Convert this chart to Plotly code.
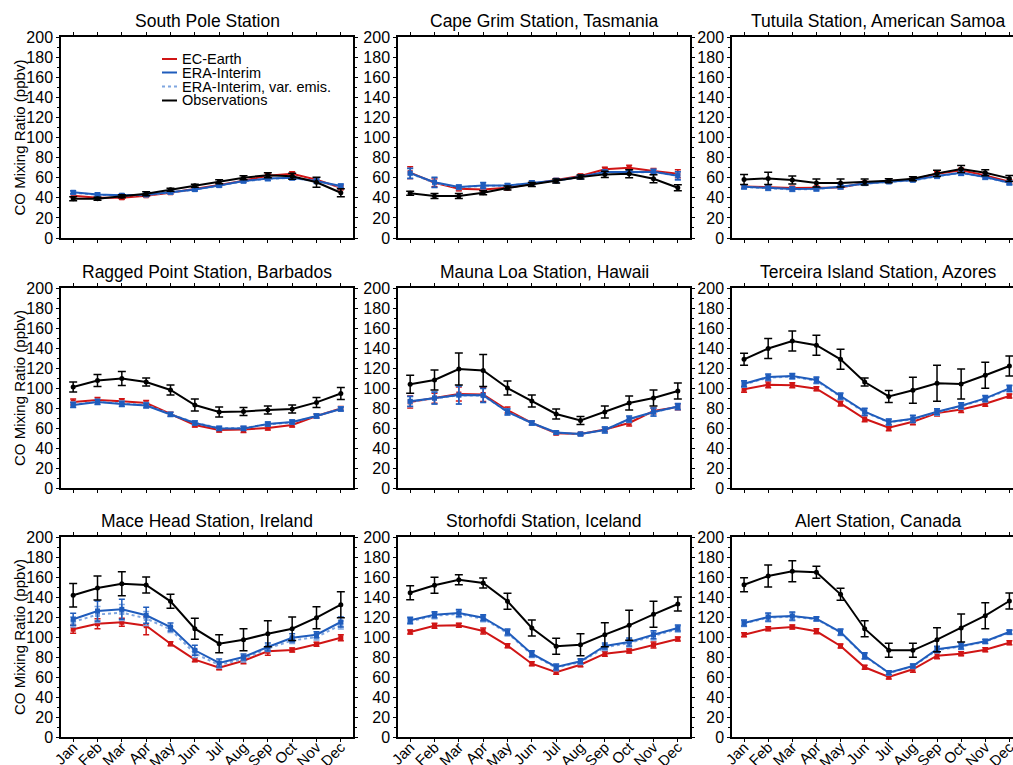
import plotly.graph_objects as go

# ---------------- data ----------------
months = ["Jan", "Feb", "Mar", "Apr", "May", "Jun", "Jul", "Aug", "Sep", "Oct", "Nov", "Dec"]
month_num = [1, 2, 3, 4, 5, 6, 7, 8, 9, 10, 11, 12]

stations = [
    "South Pole Station",
    "Cape Grim Station, Tasmania",
    "Tutuila Station, American Samoa",
    "Ragged Point Station, Barbados",
    "Mauna Loa Station, Hawaii",
    "Terceira Island Station, Azores",
    "Mace Head Station, Ireland",
    "Storhofdi Station, Iceland",
    "Alert Station, Canada",
]

# South Pole
spo_obs = [39, 39, 41.5, 44, 48, 52, 56, 60, 62.5, 61.5, 55.5, 45]
spo_obs_err = [2, 1.5, 1.5, 2, 1.5, 1.5, 2, 2, 2.5, 3, 5, 4]
spo_ec = [42, 40, 40, 42, 45, 48.7, 52.7, 57, 62, 64, 58, 50]
spo_ec_err = [1.5, 1.5, 1.5, 1.5, 1.5, 1.5, 1.5, 1.5, 2, 2, 2, 2]
spo_era = [45.5, 43.3, 42.6, 43, 45.6, 48.3, 52.3, 56.7, 59.3, 60, 56.7, 51.7]
spo_era_err = [1.5, 1.5, 1.5, 1.5, 1.5, 1.5, 1.5, 1.5, 2, 2, 2, 2]
spo_var = [45, 43, 42.3, 42.8, 45.3, 48, 52, 56.3, 59, 59.7, 56.3, 51.3]
spo_var_err = [1.5, 1.5, 1.5, 1.5, 1.5, 1.5, 1.5, 1.5, 2, 2, 2, 2]

# Cape Grim
cgo_obs = [44.5, 41.7, 41.7, 45, 49.7, 53.3, 56.7, 60.7, 63.3, 64, 59, 50]
cgo_obs_err = [2, 2.5, 2.5, 2, 2, 2, 2, 2, 3, 4, 4, 3]
cgo_ec = [65, 55, 49, 48.3, 50, 54, 57.3, 61.7, 68.3, 70, 66.7, 64]
cgo_ec_err = [6, 4, 2, 2, 2, 2, 2, 2, 2, 2.5, 2.5, 4]
cgo_era = [64.5, 55.5, 50.7, 52.3, 52.3, 55, 57.3, 61, 65.7, 65.7, 66, 62]
cgo_era_err = [5, 5, 2, 3, 2, 2, 2, 2, 2, 2, 2.5, 4]
cgo_var = [64, 55, 50.3, 52, 52, 54.7, 57, 60.7, 65.3, 65.3, 65.7, 61.7]
cgo_var_err = [5, 5, 2, 3, 2, 2, 2, 2, 2, 2, 2.5, 4]

# Tutuila
smo_obs = [58.3, 59.3, 57.7, 54.7, 54.7, 55.7, 57, 59, 64.3, 68.7, 65, 59.3]
smo_obs_err = [5, 6, 4, 4, 4, 3, 2, 2, 3, 3.5, 3, 3]
smo_ec = [51.3, 50.7, 49.7, 50, 50.3, 54.7, 56.7, 58.3, 64, 67.3, 62.3, 56]
smo_ec_err = [1.5, 1.5, 1.5, 1.5, 1.5, 1.5, 1.5, 1.5, 2, 2, 2, 2]
smo_era = [51, 49.7, 48.7, 49, 51, 54.3, 56, 57.7, 61.7, 65, 60.7, 55]
smo_era_err = [2, 2, 2, 2, 2, 1.5, 1.5, 1.5, 2, 2.5, 2, 2]
smo_var = [50.7, 49.3, 48.3, 48.7, 50.7, 54, 55.7, 57.3, 61.3, 64.7, 60.3, 54.7]
smo_var_err = [2, 2, 2, 2, 2, 1.5, 1.5, 1.5, 2, 2.5, 2, 2]

# Ragged Point
rpb_obs = [101, 107.5, 109.5, 106, 98, 83, 76, 76.5, 78, 79, 85.6, 94.5]
rpb_obs_err = [5, 6, 7, 4, 5, 6, 5, 4, 4, 4, 5, 6]
rpb_ec = [86, 88, 86.7, 85, 74, 63, 58, 58.5, 60, 63, 72, 79.5]
rpb_ec_err = [3, 2.5, 2.5, 2.5, 2, 2, 2, 3, 2, 2, 2, 2]
rpb_era = [83, 86, 84, 82.5, 73.5, 65, 59.5, 59.5, 64, 66, 72, 79]
rpb_era_err = [2.5, 2.5, 2.5, 2.5, 2, 2, 2, 2, 2, 2, 2, 2]
rpb_var = [83.5, 86.3, 84.5, 83, 73.8, 65.3, 60, 60, 63.7, 65.7, 72, 79.3]
rpb_var_err = [2.5, 2.5, 2.5, 2.5, 2, 2, 2, 2, 2, 2, 2, 2]

# Mauna Loa
mlo_obs = [103.7, 108, 119, 117.5, 100, 87, 74, 67.5, 76, 85, 90, 97]
mlo_obs_err = [9, 10, 16, 16, 7, 6, 5, 4, 6, 7, 8, 8]
mlo_ec = [86, 89.7, 94, 93.5, 78, 65, 54.7, 54, 58.5, 65, 77, 81]
mlo_ec_err = [6, 5, 7, 7, 3, 2, 1.5, 1.5, 2, 3, 3, 3]
mlo_era = [86.7, 90, 93, 92.7, 76, 65, 55.5, 54, 58, 69, 76, 81.5]
mlo_era_err = [5, 6, 9, 7, 3, 2, 1.5, 1.5, 3, 3, 4, 3]
mlo_var = [86.3, 89.7, 92.7, 92.3, 76.3, 64.7, 55.3, 53.8, 58.3, 68.5, 75.7, 81.2]
mlo_var_err = [5, 6, 9, 7, 3, 2, 1.5, 1.5, 3, 3, 4, 3]

# Terceira Island
azr_obs = [128.7, 139.5, 147, 142.8, 128.7, 106, 91.6, 97.7, 104.7, 104, 112.7, 122]
azr_obs_err = [6, 10, 10, 10, 10, 4, 6, 13, 18, 15, 13, 10]
azr_ec = [98.7, 103.3, 102.7, 99.3, 84.6, 69.2, 60.2, 66.2, 74.9, 78.6, 84.3, 92]
azr_ec_err = [3, 3, 2.5, 2, 2.5, 3, 3, 3, 3, 3, 2.5, 2]
azr_era = [104.3, 111, 112, 108, 92, 76.3, 66, 69.2, 76.3, 82.3, 89.6, 99.7]
azr_era_err = [3, 3, 2.5, 3, 3, 3.5, 3, 3.5, 3, 3, 3, 3]
azr_var = [103.7, 110.3, 111.3, 107.3, 91.3, 75.7, 65.7, 68.8, 75.7, 81.7, 89, 99]
azr_var_err = [3, 3, 2.5, 3, 3, 3.5, 3, 3.5, 3, 3, 3, 3]

# Mace Head
mhd_obs = [141.7, 149, 153.3, 152, 135.7, 108.3, 93.3, 97.3, 103.3, 108.3, 119.3, 132.3]
mhd_obs_err = [11.7, 12, 12, 8, 7, 10.5, 9, 11, 13, 11.7, 11, 13]
mhd_ec = [107.7, 113.3, 114.7, 111.3, 93.3, 77.3, 69.3, 76.3, 85.7, 87, 92.7, 99.3]
mhd_ec_err = [4, 5, 4, 9, 2, 2, 2, 3, 4, 2, 2, 3]
mhd_era = [117.7, 126, 127.7, 121.7, 110, 86.7, 74, 80, 90, 99.3, 102.3, 115]
mhd_era_err = [6, 10, 10, 8, 4, 5, 4, 3, 4, 4, 3, 5]
mhd_var = [115, 122.5, 124.5, 118.5, 107.5, 83.5, 72, 78, 88.5, 96.5, 100, 112]
mhd_var_err = [5, 8, 8, 7, 3, 4, 3, 3, 3, 3, 3, 4]

# Storhofdi
ice_obs = [144.3, 151.7, 157.3, 154, 135.7, 109, 90.7, 92.3, 102.3, 111.7, 122.7, 133]
ice_obs_err = [7, 8, 5, 5, 8, 8, 8, 11, 12, 15, 13, 7]
ice_ec = [105, 111.3, 111.7, 106, 91.3, 73.3, 64.7, 72.3, 83.3, 86, 92, 98]
ice_ec_err = [2, 2.5, 2, 3, 2, 2, 2, 2, 2.5, 2, 3, 2]
ice_era = [116.7, 122.3, 124, 119.3, 105, 83.3, 70, 75.7, 91, 95, 102.3, 109]
ice_era_err = [3, 3, 3.5, 3, 3, 3, 3, 2.5, 3, 4, 4, 3]
ice_var = [115.7, 121.3, 123, 118.3, 104, 82.5, 69.3, 75, 89.5, 94, 101, 108]
ice_var_err = [3, 3, 3.5, 3, 3, 3, 3, 2.5, 3, 4, 4, 3]

# Alert
alt_obs = [152.3, 161, 165.7, 164.7, 142.7, 108.3, 86.7, 86.7, 97.3, 109, 121.3, 136]
alt_obs_err = [7, 11, 10.5, 6, 6, 8, 7, 7, 12, 14, 13, 8]
alt_ec = [102.3, 108.3, 110, 105.7, 91, 69.7, 60, 67.7, 81.3, 83.3, 87.3, 94.3]
alt_ec_err = [2, 2, 2, 2.5, 2, 2, 2, 3, 3, 2, 2, 2]
alt_era = [114, 120, 121, 118.3, 105, 81.3, 64.3, 71, 87.7, 91, 95.7, 105]
alt_era_err = [3, 4, 4, 2, 3, 3, 2, 2, 3, 3, 2, 2]
alt_var = [113.5, 119.3, 120.3, 117.8, 104.5, 80.7, 64, 70.5, 87, 90.5, 95.3, 104.5]
alt_var_err = [3, 4, 4, 2, 3, 3, 2, 2, 3, 3, 2, 2]

station_data = [
    (spo_obs, spo_obs_err, spo_ec, spo_ec_err, spo_era, spo_era_err, spo_var, spo_var_err),
    (cgo_obs, cgo_obs_err, cgo_ec, cgo_ec_err, cgo_era, cgo_era_err, cgo_var, cgo_var_err),
    (smo_obs, smo_obs_err, smo_ec, smo_ec_err, smo_era, smo_era_err, smo_var, smo_var_err),
    (rpb_obs, rpb_obs_err, rpb_ec, rpb_ec_err, rpb_era, rpb_era_err, rpb_var, rpb_var_err),
    (mlo_obs, mlo_obs_err, mlo_ec, mlo_ec_err, mlo_era, mlo_era_err, mlo_var, mlo_var_err),
    (azr_obs, azr_obs_err, azr_ec, azr_ec_err, azr_era, azr_era_err, azr_var, azr_var_err),
    (mhd_obs, mhd_obs_err, mhd_ec, mhd_ec_err, mhd_era, mhd_era_err, mhd_var, mhd_var_err),
    (ice_obs, ice_obs_err, ice_ec, ice_ec_err, ice_era, ice_era_err, ice_var, ice_var_err),
    (alt_obs, alt_obs_err, alt_ec, alt_ec_err, alt_era, alt_era_err, alt_var, alt_var_err),
]

legend_labels = ["EC-Earth", "ERA-Interim", "ERA-Interim, var. emis.", "Observations"]

# ---------------- styling ----------------
W, H = 1013, 765
FONT = "Liberation Sans, Arial, Helvetica, sans-serif"
RED = "#d01515"
BLUE = "#1f5cbc"
LBLUE = "#7fa6e0"
BLACK = "#000000"

col_px = [(61, 353), (398, 690), (732, 1024)]
row_px = [(37, 238), (288, 488), (537, 737)]

fig = go.Figure()

for i, title in enumerate(stations):
    r, c = divmod(i, 3)
    n = i + 1
    xa = "x" if n == 1 else f"x{n}"
    ya = "y" if n == 1 else f"y{n}"
    obs, obs_e, ec, ec_e, era, era_e, var, var_e = station_data[i]

    fig.add_trace(go.Scatter(
        x=month_num, y=ec, xaxis=xa, yaxis=ya, mode="lines+markers",
        line=dict(color=RED, width=2), marker=dict(symbol="square", size=5, color=RED),
        error_y=dict(type="data", array=ec_e, color=RED, thickness=1.5, width=3),
        showlegend=False, name=legend_labels[0]))
    fig.add_trace(go.Scatter(
        x=month_num, y=var, xaxis=xa, yaxis=ya, mode="lines+markers",
        line=dict(color=LBLUE, width=2, dash="dot"), marker=dict(symbol="square", size=5, color=LBLUE),
        error_y=dict(type="data", array=var_e, color=LBLUE, thickness=1.5, width=3),
        showlegend=False, name=legend_labels[2]))
    fig.add_trace(go.Scatter(
        x=month_num, y=era, xaxis=xa, yaxis=ya, mode="lines+markers",
        line=dict(color=BLUE, width=2), marker=dict(symbol="square", size=5, color=BLUE),
        error_y=dict(type="data", array=era_e, color=BLUE, thickness=1.5, width=3),
        showlegend=False, name=legend_labels[1]))
    fig.add_trace(go.Scatter(
        x=month_num, y=obs, xaxis=xa, yaxis=ya, mode="lines+markers",
        line=dict(color=BLACK, width=2), marker=dict(symbol="circle", size=5, color=BLACK),
        error_y=dict(type="data", array=obs_e, color=BLACK, thickness=1.5, width=4),
        showlegend=False, name=legend_labels[3]))

    x0, x1 = col_px[c]
    if x1 > W:
        x1c = W
        xr_end = 12.15
    else:
        x1c = x1
        xr_end = 12.5
    y0, y1 = row_px[r]
    xkey = "xaxis" if n == 1 else f"xaxis{n}"
    ykey = "yaxis" if n == 1 else f"yaxis{n}"
    fig.layout[xkey] = dict(
        domain=[x0 / W, x1c / W], anchor=ya, range=[0.5, xr_end], automargin=False,
        tickmode="array", tickvals=month_num, ticktext=months,
        showticklabels=(r == 2), tickangle=-45,
        ticklabelstandoff=-9, ticklabeloverflow="allow",
        ticks="outside", ticklen=3, tickwidth=1, tickcolor=BLACK,
        showline=True, linecolor=BLACK, linewidth=1.5, mirror="ticks",
        showgrid=False, zeroline=False,
        tickfont=dict(family=FONT, size=15, color=BLACK),
    )
    fig.layout[ykey] = dict(
        domain=[1 - y1 / H, 1 - y0 / H], anchor=xa, range=[0, 200], automargin=False,
        tickmode="linear", tick0=0, dtick=20,
        ticks="outside", ticklen=3, tickwidth=1, tickcolor=BLACK,
        minor=dict(dtick=10, ticks="outside", ticklen=2, tickcolor=BLACK, showgrid=False),
        showline=True, linecolor=BLACK, linewidth=1.5,
        mirror=("ticks" if c < 2 else False),
        showgrid=False, zeroline=False,
        tickfont=dict(family=FONT, size=16, color=BLACK),
    )

    # subplot title
    fig.add_annotation(
        x=((x0 + x1) / 2) / W, y=1 - (y0 - 16) / H, xref="paper", yref="paper",
        text=title, showarrow=False, xanchor="center", yanchor="middle",
        font=dict(family=FONT, size=17.5, color=BLACK))

    if c == 0:
        fig.add_annotation(
            x=19 / W, y=1 - ((y0 + y1) / 2) / H, xref="paper", yref="paper",
            text="CO Mixing Ratio (ppbv)", showarrow=False, textangle=-90,
            xanchor="center", yanchor="middle",
            font=dict(family=FONT, size=15, color=BLACK))

# legend (inside first panel)
leg_colors = [RED, BLUE, LBLUE, BLACK]
leg_dash = ["solid", "solid", "dot", "solid"]
leg_y = [59, 72.5, 86.5, 100.5]
for lab, col, dsh, yy in zip(legend_labels, leg_colors, leg_dash, leg_y):
    fig.add_shape(type="line", xref="paper", yref="paper",
                  x0=162 / W, x1=177 / W, y0=1 - yy / H, y1=1 - yy / H,
                  line=dict(color=col, width=2, dash=dsh))
    fig.add_annotation(x=181 / W, y=1 - yy / H, xref="paper", yref="paper",
                       text=lab, showarrow=False, xanchor="left", yanchor="middle",
                       borderpad=0,
                       font=dict(family=FONT, size=14.5, color=BLACK))

fig.update_layout(
    width=W, height=H, margin=dict(l=0, r=0, t=0, b=0, pad=0, autoexpand=False),
    paper_bgcolor="white", plot_bgcolor="white", showlegend=False,
    font=dict(family=FONT, color=BLACK),
)

fig.write_html("out.html")
